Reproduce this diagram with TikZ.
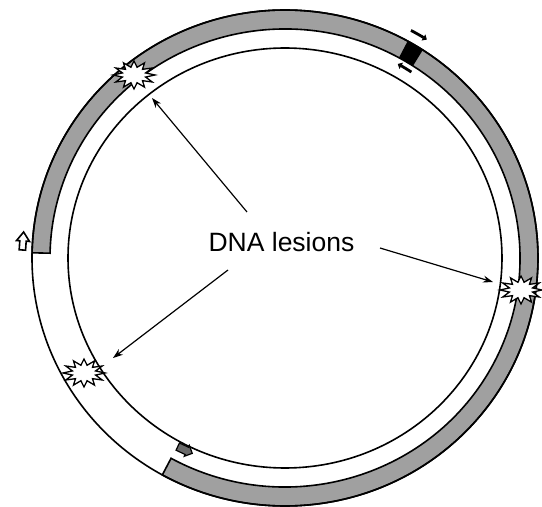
\documentclass[tikz,border=0pt]{standalone}
\usepackage{fontspec}
\setmainfont{Liberation Sans}
\usetikzlibrary{arrows.meta}
\definecolor{bandgray}{RGB}{160,160,160}
\definecolor{arrowgray}{RGB}{105,105,105}
\begin{document}
\begin{tikzpicture}[x=1pt,y=1pt,
  strand/.style={line width=1.6pt, draw=black},
  band/.style={fill=bandgray, draw=black, line width=1.6pt},
  lesion/.style={fill=white, draw=black, line width=1.3pt, line join=miter},
  pointer/.style={line width=1.2pt, -{Stealth[length=10pt,width=7pt]}},
  tickarrow/.style={line width=2.8pt, -{Triangle[length=4pt,width=7pt]}},
  lbl/.style={font=\fontsize{26.5}{30}\selectfont, inner sep=0pt},
  blockarrow/.pic={\path[pic actions] (-9,-3.2) -- (0,-3.2) -- (0,-6.5) -- (9,0) -- (0,6.5) -- (0,3.2) -- (-9,3.2) -- cycle;},
  platearrow/.pic={\path[pic actions] (-8,-4) -- (2,-4) -- (2,-6) -- (8,0) -- (2,6) -- (2,4) -- (-8,4) -- cycle;},
  lesionstar/.pic={\path[pic actions] (0:21 and 14)
      \foreach \a in {0,30,...,330} { -- ({\a+15}:12 and 8) -- ({\a+30}:21 and 14) } -- cycle;}
]
\useasboundingbox (0,0) rectangle (542,507);
\fill[white] (0,0) rectangle (542,507);
\coordinate (c) at (285,249);

% gray (newly synthesised) strand
\filldraw[band] ([shift={(178.8:253pt and 248pt)}]c)
  arc[start angle=178.8, end angle=-119, x radius=253pt, y radius=248pt]
  -- ([shift={(-119:235pt and 229pt)}]c)
  arc[start angle=-119, end angle=178.8, x radius=235pt, y radius=229pt] -- cycle;

% outer and inner strands
\draw[strand] (c) ellipse[x radius=253pt, y radius=248pt];
\draw[strand] (c) ellipse[x radius=217pt, y radius=210pt];

% black block with its two small arrows
\fill[black] ([shift={(57:253pt and 248pt)}]c)
  arc[start angle=57, end angle=61, x radius=253pt, y radius=248pt]
  -- ([shift={(61:235pt and 229pt)}]c)
  arc[start angle=61, end angle=57, x radius=235pt, y radius=229pt] -- cycle;
\draw[tickarrow] ([shift={(61.5:264pt and 259pt)}]c)
  arc[start angle=61.5, end angle=57.5, x radius=264pt, y radius=259pt];
\draw[tickarrow] ([shift={(56.5:229pt and 223pt)}]c)
  arc[start angle=56.5, end angle=60.5, x radius=229pt, y radius=223pt];

% block arrows at the strand ends
\pic[rotate=86, fill=white, draw=black, line width=1.6pt] at (23,266) {blockarrow};
\pic[rotate=-25, fill=arrowgray, draw=black, line width=1.2pt] at (185,57) {platearrow};

% lesions
\coordinate (l1) at (134,432);
\coordinate (l2) at (521,217);
\coordinate (l3) at (84,134);
\pic[lesion] at (l1) {lesionstar};
\pic[lesion] at (l2) {lesionstar};
\pic[lesion] at (l3) {lesionstar};

% label and pointers
\node[lbl, anchor=base] (txt) at (281.5,255) {DNA lesions};
\coordinate (s1) at (247,295); \coordinate (t1) at (152,409);
\coordinate (s2) at (380,259); \coordinate (t2) at (493,225);
\coordinate (s3) at (228,237); \coordinate (t3) at (113,149);
\draw[pointer] (s1) -- (t1);
\draw[pointer] (s2) -- (t2);
\draw[pointer] (s3) -- (t3);
\end{tikzpicture}
\end{document}
